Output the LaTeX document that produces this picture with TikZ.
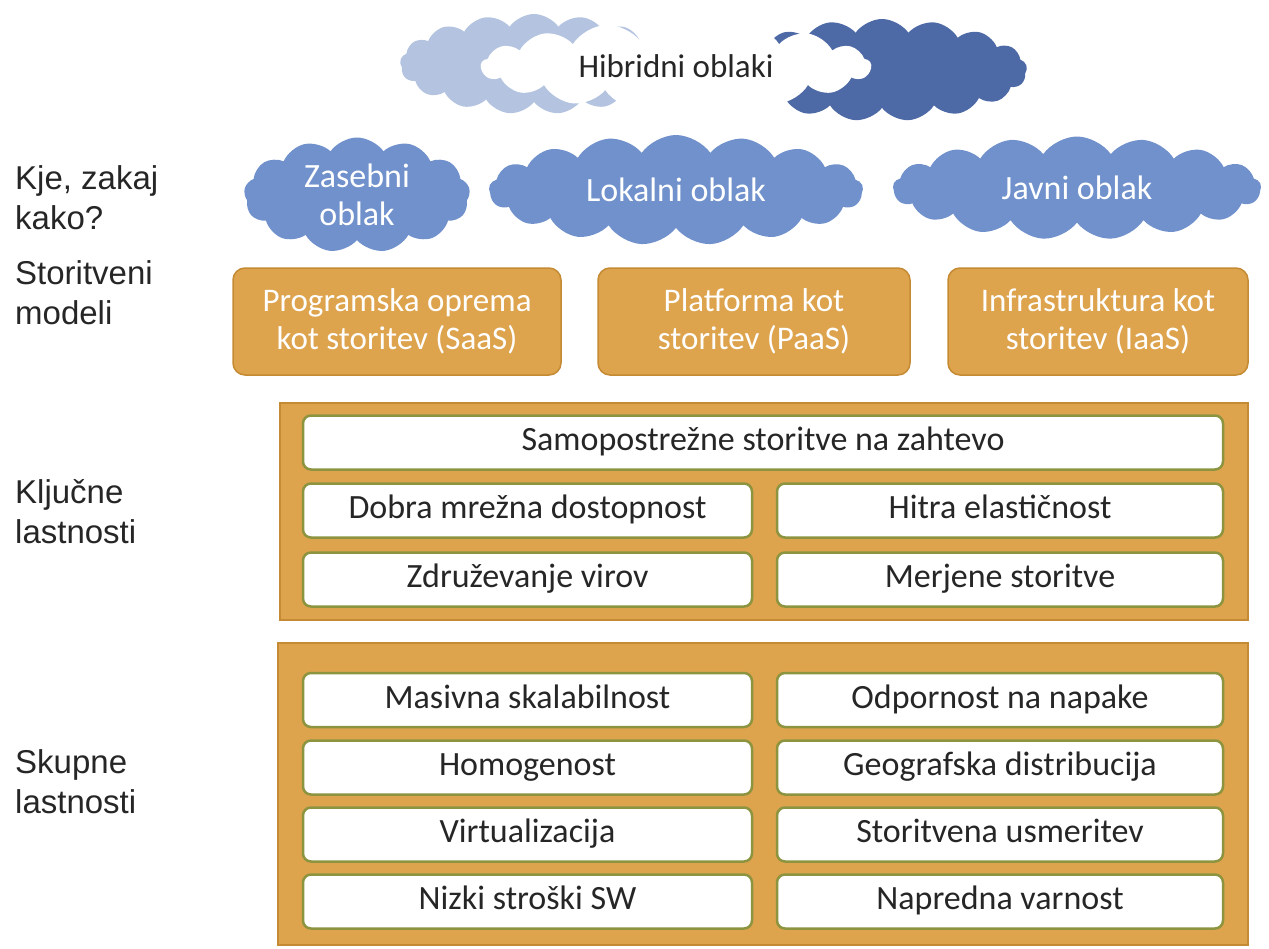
\documentclass[tikz,border=0pt]{standalone}
\usepackage{fontspec}
\setmainfont{Carlito}
\newfontfamily\oznakafont{Liberation Sans}
\usetikzlibrary{shapes.symbols}

\definecolor{oblakmoder}{RGB}{112,145,203}
\definecolor{oblaksvetel}{RGB}{180,196,224}
\definecolor{oblaktemen}{RGB}{78,106,166}
\definecolor{oranzna}{RGB}{221,163,77}
\definecolor{oranznarob}{RGB}{196,138,52}
\definecolor{olivnarob}{RGB}{140,148,64}
\definecolor{besedilo}{RGB}{38,38,38}

\tikzset{
  oblak/.style={cloud, cloud puffs=17, cloud puff arc=110, cloud ignores aspect,
    fill=oblakmoder, text=white, align=center, inner sep=0pt,
    font=\fontsize{34}{38}\selectfont},
  model/.style={rectangle, rounded corners=12pt, fill=oranzna, draw=oranznarob,
    line width=1.5pt, text=white, align=center, inner sep=0pt, minimum height=107pt,
    font=\fontsize{33}{38}\selectfont},
  plosca/.style={rectangle, fill=oranzna, draw=oranznarob, line width=1.5pt, inner sep=0pt},
  lastnost/.style={rectangle, rounded corners=8pt, fill=white, draw=olivnarob,
    line width=2.5pt, text=besedilo, inner sep=0pt, minimum height=54pt,
    text height=24pt, text depth=8pt, font=\fontsize{34}{38}\selectfont},
  oznaka/.style={anchor=west, align=left, inner sep=0pt, text=besedilo,
    font=\oznakafont\fontsize{33}{40}\selectfont}
}

\begin{document}
\begin{tikzpicture}[x=1pt, y=-1pt]

  \useasboundingbox (0,0) rectangle (1269,948);

  %% hibridni oblaki
  \node[oblak, fill=oblaksvetel, minimum width=268pt, minimum height=100pt] (svetel) at (534,64) {};
  \node[oblak, fill=oblaktemen, minimum width=290pt, minimum height=102pt] (temen) at (882,70) {};
  \node[oblak, fill=white, text=besedilo, minimum width=390pt, minimum height=88pt,
    font=\fontsize{33}{38}\selectfont] (hibrid) at (676,66) {Hibridni oblaki};

  %% vrsta oblakov
  \node[oblak, cloud puffs=13, minimum width=226pt, minimum height=115pt] (zasebni) at (357,195) {Zasebni\\oblak};
  \node[oblak, minimum width=374pt, minimum height=110pt] (lokalni) at (676,190) {Lokalni oblak};
  \node[oblak, minimum width=368pt, minimum height=103pt] (javni) at (1077,188) {Javni oblak};

  %% storitveni modeli
  \node[model, minimum width=328pt] (saas) at (397,321.5) {Programska oprema\\kot storitev (SaaS)};
  \node[model, minimum width=312pt] (paas) at (754,321.5) {Platforma kot\\storitev (PaaS)};
  \node[model, minimum width=300pt] (iaas) at (1098,321.5) {Infrastruktura kot\\storitev (IaaS)};

  %% kljucne lastnosti
  \node[plosca, minimum width=968pt, minimum height=217pt] (kljucne) at (764,511.5) {};
  \node[lastnost, minimum width=920pt] (samo) at (763,442.5) {Samopostrežne storitve na zahtevo};
  \node[lastnost, minimum width=449pt] (mreza) at (527.5,510.5) {Dobra mrežna dostopnost};
  \node[lastnost, minimum width=446pt] (elast) at (1000,510.5) {Hitra elastičnost};
  \node[lastnost, minimum width=449pt] (viri) at (527.5,579.5) {Združevanje virov};
  \node[lastnost, minimum width=446pt] (merjene) at (1000,579.5) {Merjene storitve};

  %% skupne lastnosti
  \node[plosca, minimum width=970pt, minimum height=302pt] (skupne) at (763,794) {};
  \node[lastnost, minimum width=449pt] (masivna) at (527.5,700) {Masivna skalabilnost};
  \node[lastnost, minimum width=446pt] (odpor) at (1000,700) {Odpornost na napake};
  \node[lastnost, minimum width=449pt] (homo) at (527.5,767.5) {Homogenost};
  \node[lastnost, minimum width=446pt] (geo) at (1000,767.5) {Geografska distribucija};
  \node[lastnost, minimum width=449pt] (virt) at (527.5,834.5) {Virtualizacija};
  \node[lastnost, minimum width=446pt] (usmer) at (1000,834.5) {Storitvena usmeritev};
  \node[lastnost, minimum width=449pt] (nizki) at (527.5,901.5) {Nizki stroški SW};
  \node[lastnost, minimum width=446pt] (varnost) at (1000,901.5) {Napredna varnost};

  %% oznake na levi
  \node[oznaka] (kje) at (15,198) {Kje, zakaj\\kako?};
  \node[oznaka] (modeli) at (15,293) {Storitveni\\modeli};
  \node[oznaka] (klj) at (15,512) {Ključne\\lastnosti};
  \node[oznaka] (sku) at (15,782) {Skupne\\lastnosti};

\end{tikzpicture}
\end{document}
